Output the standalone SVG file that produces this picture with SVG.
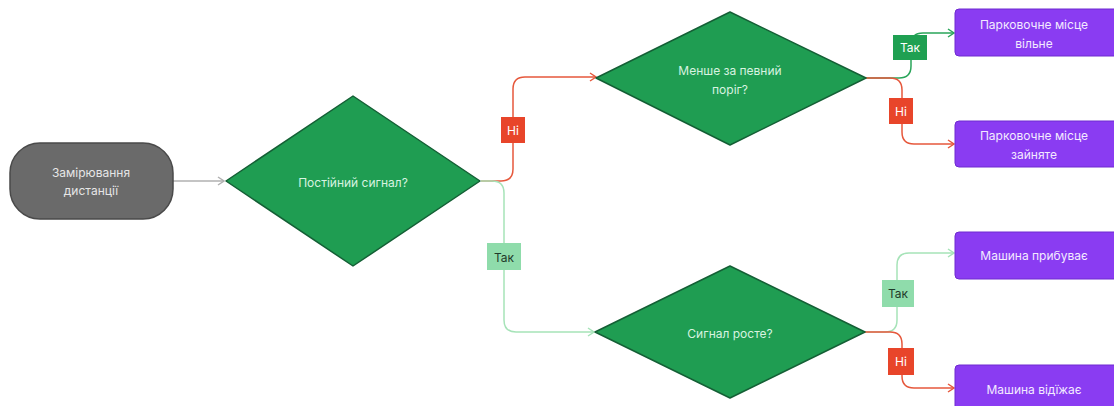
<svg xmlns="http://www.w3.org/2000/svg" width="1114" height="406" viewBox="0 0 1114 406">
<style>
text{font-family:Inter,"Noto Sans","Liberation Sans",sans-serif;font-size:12px;text-anchor:middle;dominant-baseline:central}
.dia{fill:#1f9d52;stroke:#145f35;stroke-width:1.5;stroke-linejoin:round}
.dtxt{fill:#d8f3e0}
.out{fill:#8a3cf2;stroke:#6f2ad0;stroke-width:1}
.otxt{fill:#f3eaff}
.c{fill:none;stroke-width:1.5}
.red{stroke:#e6583c}
.lg{stroke:#a6e3b8}
.dg{stroke:#2aa55a}
.gray{stroke:#b0b0b0}
</style>
<defs>
<marker id="aGray" markerWidth="10" markerHeight="10" refX="8" refY="5" orient="auto" markerUnits="userSpaceOnUse"><path d="M2,1 L8,5 L2,9" fill="none" stroke="#b0b0b0" stroke-width="1.5"/></marker>
<marker id="aRed" markerWidth="10" markerHeight="10" refX="8" refY="5" orient="auto" markerUnits="userSpaceOnUse"><path d="M2,1 L8,5 L2,9" fill="none" stroke="#e6583c" stroke-width="1.5"/></marker>
<marker id="aLg" markerWidth="10" markerHeight="10" refX="8" refY="5" orient="auto" markerUnits="userSpaceOnUse"><path d="M2,1 L8,5 L2,9" fill="none" stroke="#a6e3b8" stroke-width="1.5"/></marker>
<marker id="aDg" markerWidth="10" markerHeight="10" refX="8" refY="5" orient="auto" markerUnits="userSpaceOnUse"><path d="M2,1 L8,5 L2,9" fill="none" stroke="#2aa55a" stroke-width="1.5"/></marker>
</defs>

<g id="connectors">
<path class="c gray" d="M173,181 H224" marker-end="url(#aGray)"/>
<path class="c red" d="M481,181 H501 Q513,181 513,169 V89 Q513,77 525,77 H596" marker-end="url(#aRed)"/>
<path class="c lg" d="M481,181 H492 Q504,181 504,193 V320 Q504,332 516,332 H594" marker-end="url(#aLg)"/>
<path class="c dg" d="M866,78 H899 Q911,78 911,66 V45 Q911,33 923,33 H954" marker-end="url(#aDg)"/>
<path class="c red" d="M866,78 H890 Q902,78 902,90 V132 Q902,144 914,144 H954" marker-end="url(#aRed)"/>
<path class="c lg" d="M865,332 H885 Q897,332 897,320 V265 Q897,253 909,253 H954" marker-end="url(#aLg)"/>
<path class="c red" d="M865,332 H890 Q902,332 902,344 V376 Q902,388 914,388 H954" marker-end="url(#aRed)"/>
<g id="lbl1"><rect x="501" y="117" width="24" height="26" fill="#e8452a"/><text x="513" y="130" fill="#fff">Ні</text></g>
<g id="lbl2"><rect x="487" y="243" width="34" height="27" fill="#8fdcab"/><text x="504" y="257" fill="#1f3a2a">Так</text></g>
<g id="lbl3"><rect x="893" y="35" width="34" height="25" fill="#1fa052"/><text x="910" y="47.5" fill="#fff">Так</text></g>
<g id="lbl4"><rect x="889" y="98" width="24" height="26" fill="#e8452a"/><text x="901" y="111" fill="#fff">Ні</text></g>
<g id="lbl5"><rect x="882" y="280" width="32" height="27" fill="#8fdcab"/><text x="898" y="293.5" fill="#1f3a2a">Так</text></g>
<g id="lbl6"><rect x="888" y="348" width="26" height="27" fill="#e8452a"/><text x="901" y="361.5" fill="#fff">Ні</text></g>
</g>

<g id="start">
<rect x="10" y="143" width="163" height="76" rx="30" fill="#6a6a6a" stroke="#4a4a4a" stroke-width="1.5"/>
<text x="91" y="172" fill="#e6e6e6">Замірювання</text>
<text x="91" y="190" fill="#e6e6e6">дистанції</text>
</g>

<g id="d1">
<polygon class="dia" points="226,181 353,96 480,181 353,266"/>
<text class="dtxt" x="353" y="182">Постійний сигнал?</text>
</g>

<g id="d2">
<polygon class="dia" points="596,78 730,12 866,78 730,145"/>
<text class="dtxt" x="730" y="70">Менше за певний</text>
<text class="dtxt" x="730" y="89">поріг?</text>
</g>

<g id="d3">
<polygon class="dia" points="595,332 730,266 865,332 730,398"/>
<text class="dtxt" x="730" y="333">Сигнал росте?</text>
</g>

<g id="o1">
<rect class="out" x="955" y="9" width="170" height="47" rx="4"/>
<text class="otxt" x="1034" y="24">Парковочне місце</text>
<text class="otxt" x="1034" y="43">вільне</text>
</g>
<g id="o2">
<rect class="out" x="955" y="121" width="170" height="46" rx="4"/>
<text class="otxt" x="1034" y="135">Парковочне місце</text>
<text class="otxt" x="1034" y="154">зайняте</text>
</g>
<g id="o3">
<rect class="out" x="955" y="232" width="170" height="47" rx="4"/>
<text class="otxt" x="1034" y="255.5">Машина прибуває</text>
</g>
<g id="o4">
<rect class="out" x="955" y="365" width="170" height="47" rx="4"/>
<text class="otxt" x="1034" y="389">Машина відїжає</text>
</g>
</svg>
